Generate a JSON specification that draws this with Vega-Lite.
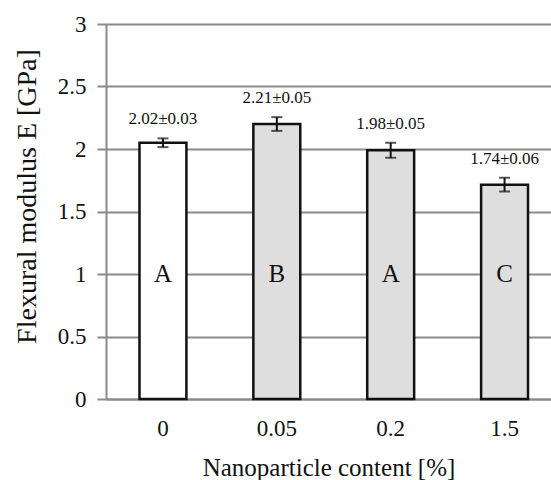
{
  "$schema": "https://vega.github.io/schema/vega-lite/v6.json",
  "width": 445,
  "height": 375,
  "autosize": "none",
  "padding": {"left": 106, "top": 24, "right": 0, "bottom": 81},
  "background": "white",
  "config": {
    "view": {"stroke": null},
    "font": "Liberation Serif",
    "axis": {"labelFont": "Liberation Serif", "titleFont": "Liberation Serif", "labelColor": "#111", "titleColor": "#111", "titleFontWeight": "normal"}
  },
  "data": {
    "values": [
      {"content": "0", "E": 2.05, "lo": 2.015, "hi": 2.085, "label": "2.02±0.03", "group": "A"},
      {"content": "0.05", "E": 2.2, "lo": 2.145, "hi": 2.255, "label": "2.21±0.05", "group": "B"},
      {"content": "0.2", "E": 1.99, "lo": 1.93, "hi": 2.05, "label": "1.98±0.05", "group": "A"},
      {"content": "1.5", "E": 1.715, "lo": 1.66, "hi": 1.77, "label": "1.74±0.06", "group": "C"}
    ]
  },
  "encoding": {
    "x": {
      "field": "content", "type": "nominal", "sort": null,
      "scale": {"paddingInner": 0.588, "paddingOuter": 0.248, "align": 0.593},
      "axis": {
        "title": "Nanoparticle content [%]", "labelAngle": 0, "ticks": false,
        "domainColor": "#8a8a8a", "domainWidth": 2, "labelPadding": 18,
        "labelFontSize": 23, "titleFontSize": 25, "titleY": 68, "titleBaseline": "middle", "grid": false
      }
    }
  },
  "layer": [
    {
      "mark": {"type": "bar", "stroke": "#111", "strokeWidth": 2.5},
      "encoding": {
        "y": {
          "field": "E", "type": "quantitative",
          "scale": {"domain": [0, 3], "nice": false},
          "axis": {
            "title": "Flexural modulus E [GPa]", "values": [0, 0.5, 1, 1.5, 2, 2.5, 3], "format": "~g",
            "domainColor": "#8a8a8a", "domainWidth": 2, "gridColor": "#8a8a8a", "gridWidth": 2, "grid": true,
            "tickColor": "#8a8a8a", "tickWidth": 2, "tickSize": 9, "labelPadding": 11,
            "labelFontSize": 23, "titleFontSize": 28, "titleAngle": -90, "titleX": -79, "titleY": 172,
            "titleBaseline": "middle", "titleAlign": "center"
          }
        },
        "fill": {
          "field": "content", "type": "nominal", "sort": null,
          "scale": {"domain": ["0", "0.05", "0.2", "1.5"], "range": ["#ffffff", "#dedede", "#dedede", "#dedede"]},
          "legend": null
        }
      }
    },
    {
      "mark": {"type": "rule", "color": "#111", "strokeWidth": 2},
      "encoding": {"y": {"field": "lo", "type": "quantitative"}, "y2": {"field": "hi"}}
    },
    {
      "mark": {"type": "tick", "color": "#111", "thickness": 2, "size": 11, "orient": "horizontal"},
      "encoding": {"y": {"field": "lo", "type": "quantitative"}}
    },
    {
      "mark": {"type": "tick", "color": "#111", "thickness": 2, "size": 11, "orient": "horizontal"},
      "encoding": {"y": {"field": "hi", "type": "quantitative"}}
    },
    {
      "mark": {"type": "text", "baseline": "bottom", "dy": -10, "fontSize": 17, "color": "#111"},
      "encoding": {"y": {"field": "hi", "type": "quantitative"}, "text": {"field": "label"}}
    },
    {
      "mark": {"type": "text", "baseline": "middle", "fontSize": 25, "color": "#111"},
      "encoding": {"y": {"datum": 1, "type": "quantitative"}, "text": {"field": "group"}}
    }
  ]
}
